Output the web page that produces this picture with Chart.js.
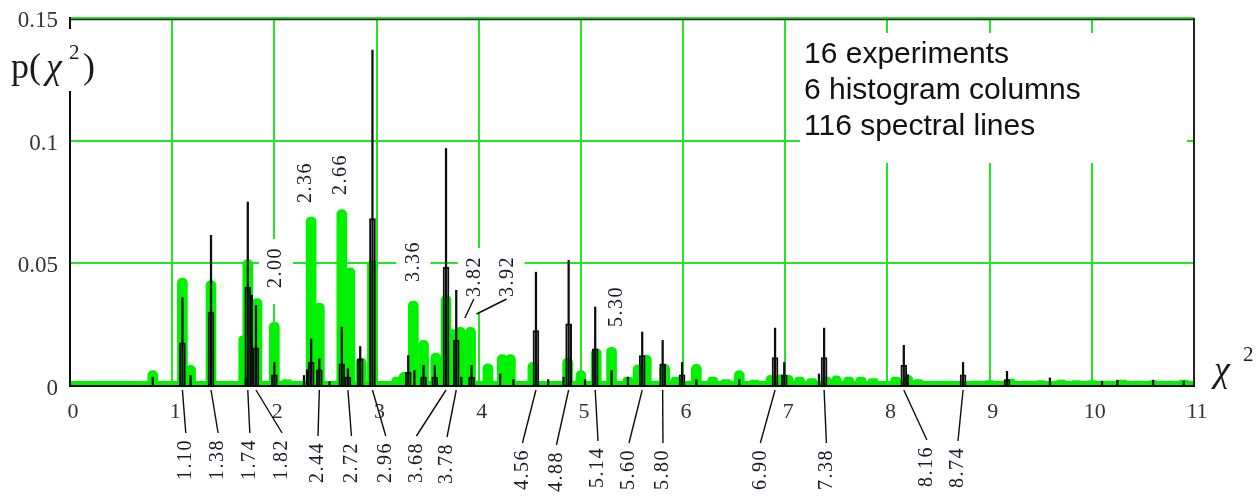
<!DOCTYPE html>
<html>
<head>
<meta charset="utf-8">
<script src="https://cdn.jsdelivr.net/npm/chart.js@4.4.1/dist/chart.umd.min.js"></script>
<style>
  html, body { margin: 0; padding: 0; background: #ffffff; }
  #wrap { width: 1258px; height: 496px; position: relative; }
</style>
</head>
<body>
<div id="wrap"><canvas id="c" width="1258" height="496"></canvas></div>
<script>
// ---- histogram columns (chi-square position, probability) ----
const histX = [0.81, 1.10, 1.18, 1.38, 1.70, 1.74, 1.83, 2.00, 2.12, 2.36, 2.44, 2.66, 2.74, 2.85, 2.96,
  3.20, 3.27, 3.36, 3.46, 3.58, 3.68, 3.74, 3.82, 3.92, 4.09, 4.23, 4.31, 4.53, 4.87, 5.00, 5.15, 5.30,
  5.46, 5.56, 5.64, 5.82, 5.93, 6.13, 6.29, 6.42, 6.55, 6.70, 6.86, 6.95, 7.03, 7.14, 7.26, 7.40, 7.50,
  7.62, 7.74, 7.86, 8.08, 8.20, 8.30, 8.45, 8.60, 8.85, 9.00, 9.20, 9.35, 9.50, 9.70, 9.85, 10.00,
  10.15, 10.30, 10.45, 10.60, 10.75, 10.90];
const histP = [0.0063, 0.0440, 0.0084, 0.0430, 0.0206, 0.0515, 0.0356, 0.0260, 0.0026, 0.0689, 0.0338, 0.0719, 0.0482, 0.0114, 0.0512,
  0.0036, 0.0056, 0.0346, 0.0186, 0.0134, 0.0369, 0.0230, 0.0239, 0.0239, 0.0090, 0.0128, 0.0128, 0.0096, 0.0114, 0.0063, 0.0152, 0.0158,
  0.0036, 0.0086, 0.0126, 0.0088, 0.0036, 0.0088, 0.0036, 0.0026, 0.0063, 0.0024, 0.0043, 0.0046, 0.0043, 0.0036, 0.0030, 0.0036, 0.0041,
  0.0036, 0.0036, 0.0030, 0.0036, 0.0043, 0.0026, 0.0020, 0.0020, 0.0020, 0.0022, 0.0028, 0.0020, 0.0022, 0.0024, 0.0022, 0.0022,
  0.0020, 0.0024, 0.0020, 0.0022, 0.0020, 0.0024];

// ---- spectral lines (position, peak height, height of the inner core; 0 = no core) ----
const lineX = [0.81, 1.10, 1.18, 1.38, 1.72, 1.74, 1.78, 1.82, 2.00, 2.29, 2.32, 2.36, 2.44, 2.54, 2.66, 2.72, 2.84, 2.96,
  3.31, 3.37, 3.46, 3.57, 3.68, 3.78, 3.83, 3.93, 4.21, 4.34, 4.56, 4.68, 4.83, 4.88, 5.04, 5.14, 5.30, 5.46, 5.60, 5.80,
  5.99, 6.13, 6.55, 6.90, 6.99, 7.33, 7.38, 8.16, 8.20, 8.74, 9.17, 9.59, 10.10, 10.25, 10.60, 10.90];
const linePeak = [0.0036, 0.0360, 0.0043, 0.0614, 0.0030, 0.0750, 0.0370, 0.0328, 0.0097, 0.0043, 0.0066, 0.0192, 0.0111, 0.0018, 0.0240, 0.0070, 0.0161, 0.1369,
  0.0124, 0.0063, 0.0084, 0.0084, 0.0968, 0.0390, 0.0036, 0.0084, 0.0049, 0.0026, 0.0464, 0.0026, 0.0036, 0.0512, 0.0026, 0.0322, 0.0063, 0.0036, 0.0220, 0.0186,
  0.0096, 0.0026, 0.0026, 0.0236, 0.0096, 0.0049, 0.0236, 0.0166, 0.0046, 0.0096, 0.0060, 0.0033, 0.0020, 0.0024, 0.0024, 0.0020];
const lineCore = [0, 0.0176, 0, 0.0301, 0, 0.0402, 0, 0.0156, 0.0046, 0, 0, 0.0096, 0.0066, 0, 0.0090, 0.0036, 0.0111, 0.0682,
  0.0056, 0, 0.0036, 0.0036, 0.0485, 0.0186, 0, 0.0036, 0, 0, 0.0226, 0, 0, 0.0253, 0, 0.0152, 0, 0, 0.0124, 0.0090,
  0.0046, 0, 0, 0.0116, 0.0046, 0, 0.0116, 0.0084, 0, 0.0046, 0.0026, 0, 0, 0, 0, 0];

// ---- axis ticks ----
const xTickValues = [0, 1, 2, 3, 4, 5, 6, 7, 8, 9, 10, 11];
const yTickValues = [0, 0.05, 0.1, 0.15];
const yTickLabels = ['0', '0.05', '0.1', '0.15'];

// ---- annotated positions ----
const topMarks = [2.00, 2.36, 2.66, 3.36, 3.82, 3.92, 5.30];
const bottomMarks = [1.10, 1.38, 1.74, 1.82, 2.44, 2.72, 2.96, 3.68, 3.78, 4.56, 4.88, 5.14, 5.60, 5.80, 6.90, 7.38, 8.16, 8.74];
const infoLines = ['16 experiments', '6 histogram columns', '116 spectral lines'];

// ---- annotation layout (pixel offsets) ----
const topLabelDx = [1.5, -5, -1, 0, 14.5, 37, 5];
const topLabelBase = [288, 203, 195, 282, 297, 297, 327];
const topLeader = [null, null, null, null, [4.5, 318], [6, 314], null];
const bottomLabelDx = [3.4, 7.1, 2, 26.1, -1.3, 3.5, 13.3, -29.6, -9.2, -13.5, -12.2, 2.8, -13.2, 0.3, -14.7, 2.3, 23.1, -5.1];
const bottomLabelBase = [480, 480, 480, 480, 483, 483, 483, 483, 484, 490, 492, 488, 490, 490, 490, 490, 487, 488];

const GREEN = '#00f200';
const GRID = '#22e622';
const INK = '#0d0d0d';
const SERIF = '"Liberation Serif", "DejaVu Serif", serif';
const SANS = '"Liberation Sans", Arial, sans-serif';
const LABEL_FONT = '20px ' + SERIF;

function verticalText(ctx, str, cx, yBottom) {
  ctx.save();
  ctx.translate(cx, yBottom);
  ctx.rotate(-Math.PI / 2);
  ctx.textAlign = 'left';
  ctx.textBaseline = 'middle';
  ctx.fillText(str, 0, 0);
  ctx.restore();
}

function textLength(ctx, str) {
  ctx.save();
  ctx.font = LABEL_FONT;
  ctx.letterSpacing = '1.5px';
  const w = ctx.measureText(str).width;
  ctx.restore();
  return w;
}

function noScalePadding(s) {
  s.paddingTop = 0;
  s.paddingBottom = 0;
  s.paddingLeft = 0;
  s.paddingRight = 0;
}

const annotations = {
  id: 'annotations',
  beforeDatasetsDraw(chart) {
    const ctx = chart.ctx;
    const xs = chart.scales.x;
    ctx.save();
    ctx.fillStyle = '#ffffff';
    // opaque backgrounds of the labels above the columns
    topMarks.forEach((v, i) => {
      const cx = xs.getPixelForValue(v) + topLabelDx[i];
      const len = textLength(ctx, v.toFixed(2));
      ctx.fillRect(cx - 17, topLabelBase[i] - len - 8, 34, len + 24);
    });
    // info box background
    ctx.fillRect(800, 33, 387, 130);
    ctx.restore();
  },
  afterDraw(chart) {
    const ctx = chart.ctx;
    const xs = chart.scales.x;
    const a = chart.chartArea;
    ctx.save();

    // frame: top and right edges
    ctx.strokeStyle = '#222';
    ctx.lineWidth = 1.5;
    ctx.beginPath();
    ctx.moveTo(a.left, a.top + 1.5);
    ctx.lineTo(a.right, a.top + 1.5);
    ctx.stroke();
    ctx.lineWidth = 2;
    ctx.beginPath();
    ctx.moveTo(a.right, a.top);
    ctx.lineTo(a.right, a.bottom);
    ctx.stroke();

    // labels above the histogram columns
    ctx.font = LABEL_FONT;
    ctx.letterSpacing = '1.5px';
    ctx.fillStyle = '#1a1a2a';
    ctx.strokeStyle = INK;
    ctx.lineWidth = 1.4;
    topMarks.forEach((v, i) => {
      const px = xs.getPixelForValue(v);
      const cx = px + topLabelDx[i];
      verticalText(ctx, v.toFixed(2), cx, topLabelBase[i]);
      if (topLeader[i]) {
        ctx.beginPath();
        ctx.moveTo(px + topLeader[i][0], topLeader[i][1]);
        ctx.lineTo(cx - 1, topLabelBase[i] + 2);
        ctx.stroke();
      }
    });

    // labels under the axis with leader lines to the spectral lines
    bottomMarks.forEach((v, i) => {
      const px = xs.getPixelForValue(v);
      const cx = px + bottomLabelDx[i];
      const str = v.toFixed(2);
      const len = ctx.measureText(str).width;
      verticalText(ctx, str, cx, bottomLabelBase[i]);
      ctx.beginPath();
      ctx.moveTo(px, a.bottom + 4);
      ctx.lineTo(cx, bottomLabelBase[i] - len - 6);
      ctx.stroke();
    });
    ctx.letterSpacing = '0px';

    // y-axis title p(chi^2) on an opaque patch over the axis line
    ctx.fillStyle = '#ffffff';
    ctx.fillRect(6, 29, 92, 62);
    ctx.fillStyle = '#1a1a1a';
    ctx.textBaseline = 'alphabetic';
    ctx.textAlign = 'left';
    ctx.font = '36px ' + SERIF;
    ctx.fillText('p(', 11, 78);
    ctx.font = 'italic 36px ' + SERIF;
    ctx.fillText('\u03C7', 46, 78);
    ctx.font = '21px ' + SERIF;
    ctx.fillText('2', 69, 59);
    ctx.font = '36px ' + SERIF;
    ctx.fillText(')', 83, 78);

    // x-axis title chi^2
    ctx.font = 'italic 36px ' + SERIF;
    ctx.fillText('\u03C7', 1214, 381);
    ctx.font = '21px ' + SERIF;
    ctx.fillText('2', 1243, 361);

    // info text
    ctx.fillStyle = '#111';
    ctx.font = '30px ' + SANS;
    infoLines.forEach((t, i) => ctx.fillText(t, 804, 63 + i * 36));

    ctx.restore();
  }
};

const histData = histX.map((x, i) => ({ x, y: histP[i] }));
const coreData = lineX.map((x, i) => ({ x, y: lineCore[i] })).filter(p => p.y > 0);
const peakData = lineX.map((x, i) => ({ x, y: linePeak[i] }));

new Chart(document.getElementById('c'), {
  type: 'bar',
  data: {
    datasets: [
      {
        type: 'line',
        label: 'floor',
        data: [{ x: 0, y: 0.001 }, { x: 11, y: 0.001 }],
        borderColor: GREEN,
        borderWidth: 5,
        pointRadius: 0,
        order: 5
      },
      {
        label: 'histogram columns',
        data: histData,
        backgroundColor: GREEN,
        barThickness: 10,
        borderRadius: 5,
        order: 4
      },
      {
        label: 'line cores',
        data: coreData,
        backgroundColor: 'rgba(0,0,0,0)',
        borderColor: INK,
        borderWidth: 1.3,
        barThickness: 6,
        order: 3
      },
      {
        label: 'spectral lines',
        data: peakData,
        backgroundColor: INK,
        barThickness: 1.6,
        order: 2
      }
    ]
  },
  options: {
    responsive: false,
    animation: false,
    devicePixelRatio: 1,
    events: [],
    layout: { padding: { left: 0, right: 64, top: 18, bottom: 0 } },
    datasets: { bar: { grouped: false } },
    plugins: { legend: { display: false }, tooltip: { enabled: false } },
    scales: {
      x: {
        type: 'linear',
        min: 0,
        max: 11,
        offset: false,
        grid: { color: GRID, lineWidth: 2, drawTicks: false, offset: false },
        border: { display: true, color: INK, width: 2, z: 1 },
        ticks: {
          font: { family: SERIF, size: 22 },
          color: '#333',
          padding: 13,
          labelOffset: 3,
          maxRotation: 0,
          autoSkip: false
        },
        afterBuildTicks: s => { s.ticks = xTickValues.map(v => ({ value: v })); },
        afterFit: s => { s.height = 110; noScalePadding(s); }
      },
      y: {
        min: 0,
        max: 0.15,
        grid: { color: GRID, lineWidth: 2, drawTicks: false },
        border: { display: true, color: INK, width: 2, z: 1 },
        ticks: {
          font: { family: SERIF, size: 23 },
          color: '#333',
          padding: 12,
          labelOffset: 3,
          callback: (v, i) => yTickLabels[i]
        },
        afterBuildTicks: s => { s.ticks = yTickValues.map(v => ({ value: v })); },
        afterFit: s => { s.width = 70; noScalePadding(s); }
      }
    }
  },
  plugins: [annotations]
});
</script>
</body>
</html>
